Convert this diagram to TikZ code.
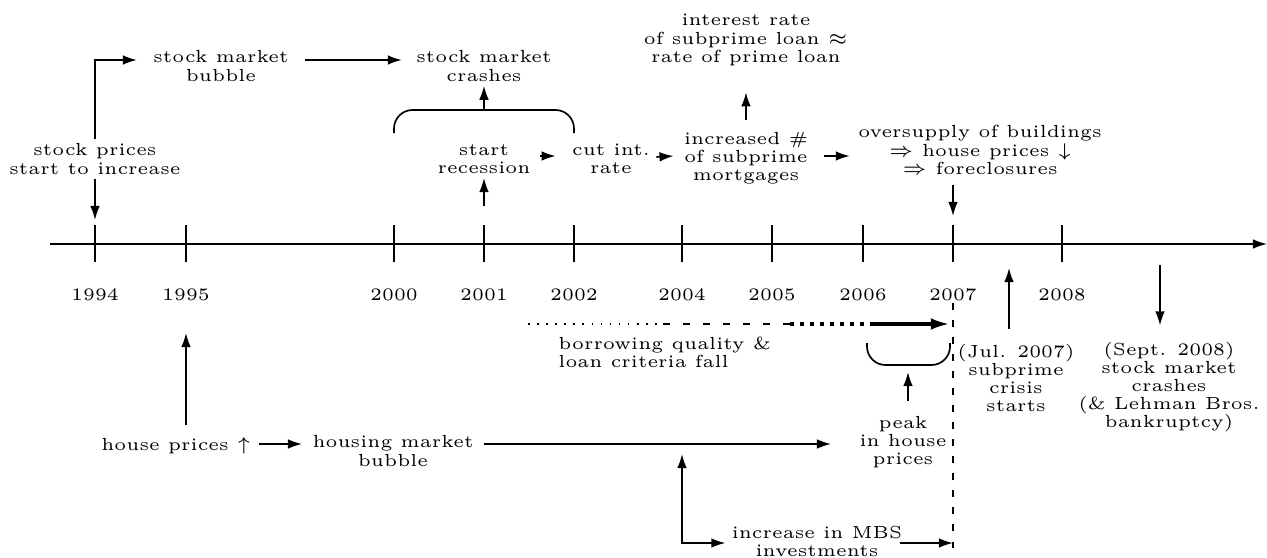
\documentclass[tikz,border=0pt]{standalone}
\usetikzlibrary{arrows.meta,calc}
\begin{document}
\begin{tikzpicture}[x=0.27pt,y=-0.27pt,
  lbl/.style={align=center, inner sep=1pt, font=\fontsize{4.73}{4.9}\selectfont},
  arr/.style={-{Latex[length=3.8pt,width=2.6pt]}, line width=0.45pt},
  darr/.style={{Latex[length=3.8pt,width=2.6pt]}-{Latex[length=3.8pt,width=2.6pt]}, line width=0.45pt},
  plain/.style={line width=0.45pt},
  vdash/.style={line width=0.45pt, dash pattern=on 1.8pt off 2.8pt},
  brace/.style={line width=0.45pt, rounded corners=5pt}]
\useasboundingbox (0,0) rectangle (1267,558);

% axis
\coordinate (axL) at (50,244);
\coordinate (axR) at (1267,244);
\draw[arr] (axL) -- (axR);
\foreach \yr/\xx in {1994/95,1995/186,2000/394,2001/484,2002/574,2004/682,2005/772,2006/863,2007/953,2008/1062}{
  \coordinate (k\yr) at (\xx,244);
  \draw[plain] (\xx,225) -- (\xx,262);
  \node[lbl] (y\yr) at (\xx,295) {\yr};
}

% top row
\node[lbl] (spi) at (95,159) {stock prices\\start to increase};
\node[lbl] (smb) at (221,66) {stock market\\bubble};
\node[lbl] (smc) at (484,66) {stock market\\crashes};
\node[lbl] (sr) at (484,159) {start\\recession};
\node[lbl] (cut) at (611,159) {cut int.\\rate};
\node[lbl] (inc) at (746,158) {increased \#\\of subprime\\mortgages};
\node[lbl] (ir) at (746,40) {interest rate\\of subprime loan $\approx$\\rate of prime loan};
\node[lbl] (ov) at (980,150) {oversupply of buildings\\$\Rightarrow$ house prices $\downarrow$\\$\Rightarrow$ foreclosures};

\draw[arr] (spi.south) -- (k1994 |- 0,220);
\draw[arr] (spi.north) |- ($(smb.west)+(-12,-6)$);
\draw[arr] ($(smb.east)+(12,-6)$) -- ($(smc.west)+(-10,-6)$);
\coordinate (brtop) at (484,110);
\draw[brace] (394,133) -- (394,110) -- (574,110) -- (574,133);
\draw[arr] (brtop) -- (smc.south);
\draw[arr] (k2001 |- 0,206) -- (sr.south);
\draw[arr] ($(sr.east)+(5,-3)$) -- ($(cut.west)+(-12,-3)$);
\draw[arr] ($(cut.east)+(2,-2)$) -- ($(inc.west)+(-6,-2)$);
\draw[arr, shorten <=2pt, shorten >=6pt] (inc.north) -- (ir.south);
\draw[arr] ($(inc.east)+(12,-2)$) -- ($(ov.west)+(-4,6)$);
\draw[arr] ($(ov.south -| k2007)+(0,6)$) -- (k2007 |- 0,216);

% bottom right
\node[lbl] (jul) at (1016,378) {(Jul. 2007)\\subprime\\crisis\\starts};
\node[lbl] (sept) at (1169,387) {(Sept. 2008)\\stock market\\crashes\\(\& Lehman Bros.\\bankruptcy)};
\draw[arr] ($(jul.north -| 1009,0)+(0,-11)$) -- (1009,268);
\draw[arr] (1160,265) -- ($(sept.north -| 1160,0)+(0,-12)$);

\draw[vdash] (k2007 |- 0,303) -- (k2007 |- 0,558);

% borrowing
\coordinate (b0) at (528,324);
\coordinate (b1) at (663,324);
\coordinate (b2) at (790,324);
\coordinate (b3) at (872,324);
\draw[line width=0.45pt, dotted] (b0) -- (b1);
\draw[line width=0.45pt, dash pattern=on 2pt off 3.4pt] (b1) -- (b2);
\draw[line width=1pt, dash pattern=on 1.2pt off 1.5pt] (b2) -- (b3);
\draw[-{Latex[length=5pt,width=3.2pt]}, line width=0.85pt, shorten >=1pt] (b3) -- (k2007 |- b3);
\node[lbl, anchor=west, align=left] (bq) at (554,352) {borrowing quality \&\\loan criteria fall};

\coordinate (pbr) at (908,365);
\draw[brace] (867,343) -- (867,365) -- (950,365) -- (950,343);
\node[lbl] (peak) at (903,442) {peak\\in house\\prices};
\draw[arr] ($(peak.north)+(5,-11)$) -- ($(pbr)+(0,7)$);

% housing row
\node[lbl] (hp) at (176,446) {house prices $\uparrow$};
\node[lbl] (hmb) at (393,451) {housing market\\bubble};
\draw[arr] ($(hp.east)+(4,-2)$) -- ($(hmb.west |- hp.east)+(-6,-2)$);
\draw[arr] ($(hmb.east |- hp.east)+(6,-2)$) -- ($(peak.west |- hp.east)+(-24,-2)$);
\draw[arr] ($(hp.north)+(10,-8)$) -- (k1995 |- 0,333);

\node[lbl] (mbs) at (817,541) {increase in MBS\\investments};
\draw[darr] ($(k2004 |- hp.east)+(0,8)$) |- ($(mbs.west)+(-2,2)$);
\draw[arr] ($(mbs.east)+(-7,2)$) -- (k2007 |- 0,543);
\end{tikzpicture}
\end{document}
